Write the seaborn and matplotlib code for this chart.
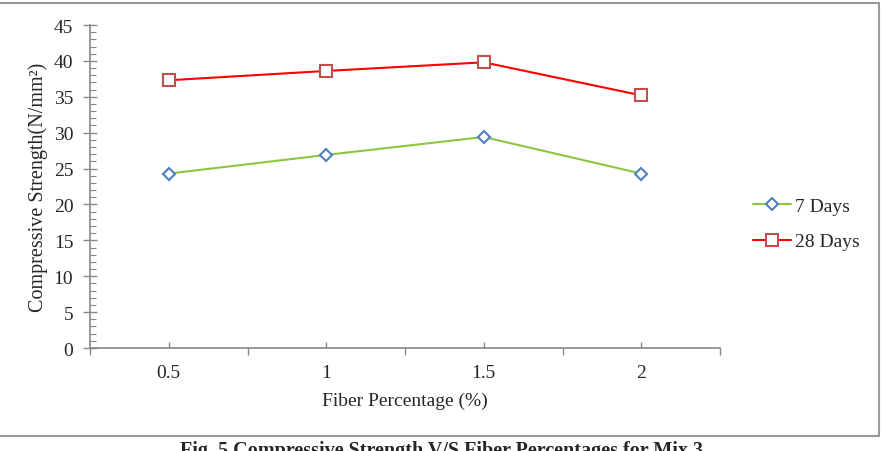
import numpy as np
import pandas as pd
import matplotlib
matplotlib.use("Agg")
import matplotlib.pyplot as plt
import seaborn as sns
from matplotlib.lines import Line2D
from matplotlib.ticker import MultipleLocator, FixedLocator

# data
fiber_pct = ["0.5", "1", "1.5", "2"]
days7 = [24.3, 26.9, 29.4, 24.3]
days28 = [37.3, 38.6, 39.8, 35.2]

sns.set_style("white")
plt.rcParams['font.family'] = ['Liberation Serif', 'DejaVu Serif']

fig = plt.figure(figsize=(8.82, 4.52), dpi=100)
ax = fig.add_axes([90/882, 1-349/452, 630/882, 323/452])

x = np.arange(len(fiber_pct))
df = pd.DataFrame({'pos': x, 'd7': days7, 'd28': days28})

green, blue, red, dred = '#8cc63f', '#4f7fbf', '#ff0000', '#c0504d'

sns.lineplot(data=df, x='pos', y='d7', ax=ax, color=green, lw=1.5,
             marker='D', markersize=6, markerfacecolor='white',
             markeredgecolor=blue, markeredgewidth=1.5)
sns.lineplot(data=df, x='pos', y='d28', ax=ax, color=red, lw=1.5,
             marker='s', markersize=8, markerfacecolor='white',
             markeredgecolor=dred, markeredgewidth=1.5)

ax.set_xlim(-0.5, len(fiber_pct) - 0.5)
ax.set_ylim(0, 45)
ax.yaxis.set_major_locator(MultipleLocator(5))
ax.yaxis.set_minor_locator(MultipleLocator(1))
ax.xaxis.set_major_locator(FixedLocator(np.arange(-0.5, len(fiber_pct), 1.0)))
ax.xaxis.set_minor_locator(FixedLocator(x))
ax.set_xticklabels([])
for i, lab in enumerate(fiber_pct):
    ax.text(i, -0.048, lab, transform=ax.get_xaxis_transform(),
            ha='center', va='top', fontsize=14)

ax.tick_params(axis='y', which='major', direction='inout', length=10, width=1,
               color='#888888', labelsize=14, pad=7, left=True)
ax.tick_params(axis='y', which='minor', direction='in', length=4, width=0.8,
               color='#888888', left=True)
ax.tick_params(axis='x', which='major', direction='out', length=5, width=1,
               color='#888888', bottom=True)
ax.tick_params(axis='x', which='minor', direction='in', length=4, width=1,
               color='#888888', bottom=True)

for s in ['top', 'right']:
    ax.spines[s].set_visible(False)
for s in ['left', 'bottom']:
    ax.spines[s].set_color('#888888')
    ax.spines[s].set_linewidth(1.2)

ax.set_xlabel('Fiber Percentage (%)', fontsize=14)
ax.xaxis.set_label_coords(0.5, -(393 - 349) / 323)
ax.set_ylabel('Compressive Strength(N/mm²)', fontsize=14.5, va='center')
ax.yaxis.set_label_coords((38 - 90) / 630, 0.5)

handles = [
    Line2D([], [], color=green, lw=1.5, marker='D', markersize=6,
           markerfacecolor='white', markeredgecolor=blue, markeredgewidth=1.5),
    Line2D([], [], color=red, lw=1.5, marker='s', markersize=8,
           markerfacecolor='white', markeredgecolor=dred, markeredgewidth=1.5),
]
fig.legend(handles, ['7 Days', '28 Days'], loc='center left',
           bbox_to_anchor=(735/882, 1-225/452), frameon=False, fontsize=14,
           handlelength=2.0, handletextpad=0.2, labelspacing=0.9)

# figure border (top, right, bottom)
border = dict(color='#999999', lw=1.5, transform=fig.transFigure)
fig.add_artist(Line2D([0, 879/882], [1-3.5/452, 1-3.5/452], **border))
fig.add_artist(Line2D([879/882, 879/882], [1-3.5/452, 1-437/452], **border))
fig.add_artist(Line2D([0, 879/882], [1-437/452, 1-437/452], **border))

fig.text(442/882, 1-441/452, 'Fig. 5 Compressive Strength V/S Fiber Percentages for Mix 3',
         ha='center', va='top', fontsize=14.5, fontweight='bold')

fig.savefig('out.png', dpi=100)
